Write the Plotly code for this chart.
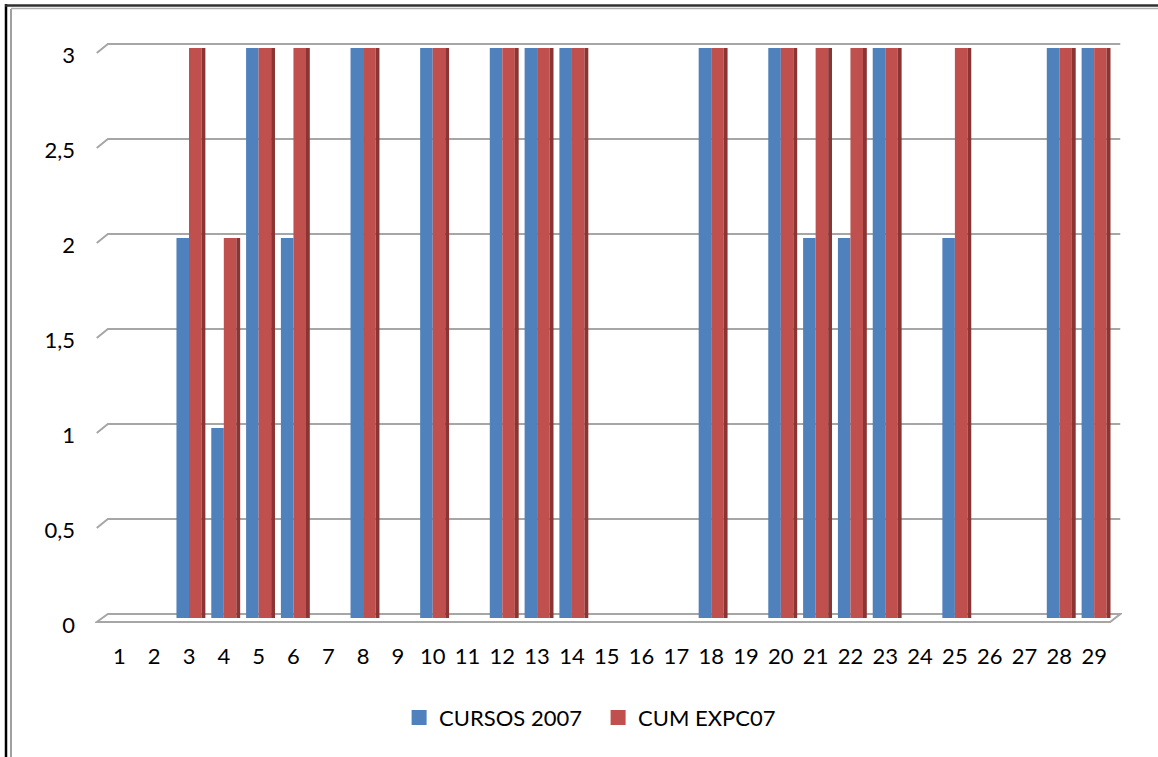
import plotly.graph_objects as go

# ---- data ----
categories = list(range(1, 30))
cursos_2007 = [0, 0, 2, 1, 3, 2, 0, 3, 0, 3, 0, 3, 3, 3, 0, 0, 0, 3, 0, 3, 2, 2, 3, 0, 2, 0, 0, 3, 3]
cum_expc07 = [0, 0, 3, 2, 3, 3, 0, 3, 0, 3, 0, 3, 3, 3, 0, 0, 0, 3, 0, 3, 3, 3, 3, 0, 3, 0, 0, 3, 3]
y_tick_values = [0, 0.5, 1, 1.5, 2, 2.5, 3]
y_tick_labels = ["0", "0,5", "1", "1,5", "2", "2,5", "3"]
series_names = ["CURSOS 2007", "CUM EXPC07"]

# ---- style / layout constants ----
W, H = 1158, 757
BLUE = "#4F81BD"
RED = "#C0504D"
RED_SIDE = "#8A3533"
GRID = "#A6A6A6"
FONT = "Lato"

x_range = [0.3, 29.8]
y_range = [-0.079, 3.095]
m_l, m_r, m_t, m_b = 95, 36, 30, 124
plot_w = W - m_l - m_r
plot_h = H - m_t - m_b
label_shift = 7 / (plot_h / (y_range[1] - y_range[0]))

face_w = 0.36
side_w = 0.11

fig = go.Figure()
fig.add_trace(go.Bar(x=categories, y=cursos_2007, name=series_names[0], showlegend=False,
                     marker=dict(color=BLUE, line=dict(width=0)),
                     offset=-face_w, width=face_w))
fig.add_trace(go.Bar(x=categories, y=cum_expc07, name=series_names[1], showlegend=False,
                     marker=dict(color=RED, line=dict(width=0)),
                     offset=0, width=face_w))
fig.add_trace(go.Bar(x=categories, y=cum_expc07, showlegend=False, hoverinfo="skip",
                     marker=dict(color=RED_SIDE, line=dict(width=0)),
                     offset=face_w, width=side_w))
# legend entries (square keys)
for name, col in zip(series_names, [BLUE, RED]):
    fig.add_trace(go.Scatter(x=[None], y=[None], mode="markers", name=name,
                             marker=dict(symbol="square", size=15, color=col)))

# 3D-like gridlines on back wall + floor
shapes = []
xf_l, xb_l, xb_r, xf_r = 0.35, 0.67, 29.75, 29.46
dfront, dback = 0.026, 0.021
for v in y_tick_values[1:]:
    shapes.append(dict(type="path", xref="x", yref="y", layer="below",
                       path=f"M {xf_l},{v - dfront} L {xb_l},{v + dback} L {xb_r},{v + dback}",
                       line=dict(color=GRID, width=2)))
shapes.append(dict(type="path", xref="x", yref="y", layer="below",
                   path=f"M {xf_l},{-dback} L {xb_l},{dback} L {xb_r},{dback} L {xf_r},{-dback} Z",
                   line=dict(color=GRID, width=2), fillcolor="white"))

# outer frame (paper coords from pixels)
def px_x(p):
    return (p - m_l) / plot_w

def px_y(p):
    return (H - m_b - p) / plot_h

shapes.append(dict(type="line", xref="paper", yref="paper", x0=px_x(6), x1=px_x(6),
                   y0=px_y(4), y1=px_y(H + 5), line=dict(color="black", width=2.5)))
shapes.append(dict(type="line", xref="paper", yref="paper", x0=px_x(11), x1=px_x(11),
                   y0=px_y(9), y1=px_y(H + 5), line=dict(color="#A0A0A0", width=2)))
shapes.append(dict(type="line", xref="paper", yref="paper", x0=px_x(5), x1=px_x(W + 5),
                   y0=px_y(5.5), y1=px_y(5.5), line=dict(color="#303030", width=2.5)))
shapes.append(dict(type="line", xref="paper", yref="paper", x0=px_x(11), x1=px_x(W + 5),
                   y0=px_y(8.5), y1=px_y(8.5), line=dict(color="#B0B0B0", width=1.5)))

fig.update_layout(
    width=W, height=H,
    margin=dict(l=m_l, r=m_r, t=m_t, b=m_b),
    paper_bgcolor="white", plot_bgcolor="white",
    barmode="overlay",
    font=dict(family=FONT, size=22, color="black"),
    shapes=shapes,
    showlegend=True,
    legend=dict(orientation="h", xref="container", yref="container",
                x=0.5165, y=0.052, xanchor="center", yanchor="middle",
                font=dict(family=FONT, size=22, color="black"),
                itemsizing="trace", tracegroupgap=0,
                entrywidth=154, entrywidthmode="pixels"),
    xaxis=dict(range=x_range, tickmode="array", tickvals=categories,
               ticktext=[str(c) for c in categories], showgrid=False, zeroline=False,
               showline=False, ticks="", tickfont=dict(family=FONT, size=22, color="black"),
               ticklabelstandoff=8),
    yaxis=dict(range=y_range, showgrid=False, zeroline=False, showline=False,
               showticklabels=False, ticks=""),
    yaxis2=dict(range=[y_range[0] + label_shift, y_range[1] + label_shift],
                overlaying="y", side="left", tickmode="array",
                tickvals=y_tick_values, ticktext=y_tick_labels,
                showgrid=False, zeroline=False, showline=False, ticks="",
                tickfont=dict(family=FONT, size=22, color="black"),
                ticklabelstandoff=19),
)
fig.add_trace(go.Scatter(x=[None], y=[None], yaxis="y2", showlegend=False, hoverinfo="skip"))

fig.write_html("out.html", config={"displayModeBar": False},
               post_script="document.body.style.margin='0px';")
